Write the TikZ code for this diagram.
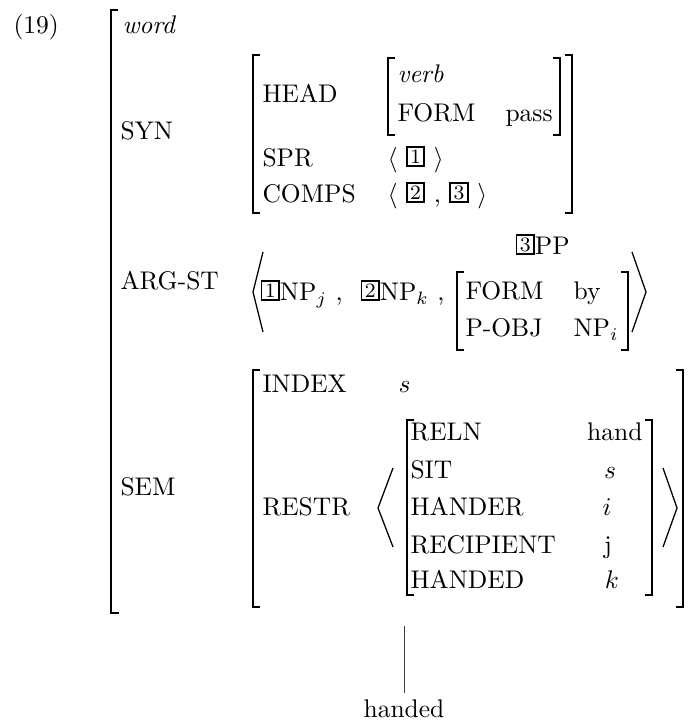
\documentclass[tikz,border=0pt]{standalone}
\newcommand{\bn}[1]{\raisebox{1.4pt}{\fboxsep=0.6pt\fboxrule=0.75pt\fbox{\makebox[4.9pt]{\footnotesize\rule[-0.2pt]{0pt}{5.3pt}#1}}}}
\begin{document}
\begin{tikzpicture}[x=0.392pt,y=-0.392pt,
  lbl/.style={anchor=base west,inner sep=0pt},
  val/.style={anchor=base,inner sep=0pt},
  rval/.style={anchor=base east,inner sep=0pt},
  brk/.style={line width=0.55pt},
  obrk/.style={line width=0.7pt},
  ang/.style={line width=0.5pt},
  edge/.style={line width=0.4pt,draw=black!75}]
\useasboundingbox (0,0) rectangle (688,721);

% example number and outer matrix
\node[lbl] (ex) at (13,34) {(19)};
\draw[obrk] (118,10) -- (111,10) -- (111,613) -- (119,613);
\node[lbl] (word) at (122,34) {\textit{word}};

% SYN
\node[lbl] (syn) at (120,140) {SYN};
\draw[brk] (260,55) -- (253,55) -- (253,213) -- (260,213);
\draw[brk] (565,55) -- (572,55) -- (572,213) -- (565,213);
\node[lbl] (head) at (262,103) {HEAD};
\node[lbl] (spr) at (262,167) {SPR};
\node[lbl] (comps) at (262,203) {COMPS};
\draw[brk] (395,58) -- (388,58) -- (388,135) -- (395,135);
\draw[brk] (553,58) -- (560,58) -- (560,135) -- (553,135);
\node[lbl] (verb) at (397,83) {\textit{verb}};
\node[lbl] (form1) at (397,122) {FORM};
\node[lbl] (pass) at (505,122) {pass};
\node[lbl] (sprv) at (387,167) {$\langle$ \bn{1} $\rangle$};
\node[lbl] (compsv) at (387,203) {$\langle$ \bn{2} , \bn{3} $\rangle$};

% ARG-ST
\node[lbl] (argst) at (120,290) {ARG-ST};
\draw[ang] (263,252) -- (253,292) -- (263,332);
\node[lbl] (np1) at (260,301) {\bn{1}NP$_j$ ,};
\node[lbl] (np2) at (360,301) {\bn{2}NP$_k$ ,};
\node[lbl] (pp) at (515,255) {\bn{3}PP};
\draw[brk] (464,272) -- (457,272) -- (457,350) -- (464,350);
\draw[brk] (621,272) -- (628,272) -- (628,350) -- (621,350);
\node[lbl] (form2) at (465,300) {FORM};
\node[lbl] (by) at (573,300) {by};
\node[lbl] (pobj) at (465,337) {P-OBJ};
\node[lbl] (npi) at (573,337) {NP$_i$};
\draw[ang] (632,252) -- (646,292) -- (632,332);

% SEM
\node[lbl] (sem) at (120,495) {SEM};
\draw[brk] (260,370) -- (253,370) -- (253,607) -- (260,607);
\draw[brk] (676,370) -- (683,370) -- (683,607) -- (676,607);
\node[lbl] (index) at (262,393) {INDEX};
\node[lbl] (sidx) at (398,393) {$s$};
\node[lbl] (restr) at (262,515) {RESTR};
\draw[ang] (393,468) -- (378,508) -- (393,547);
\draw[brk] (414,420) -- (407,420) -- (407,595) -- (414,595);
\draw[brk] (645,420) -- (652,420) -- (652,595) -- (645,595);
\node[lbl] (reln) at (410,440) {RELN};
\node[rval] (hand) at (643,440) {hand};
\node[lbl] (sit) at (410,478) {SIT};
\node[val] (sv) at (610,478) {$s$};
\node[lbl] (hander) at (410,515) {HANDER};
\node[val] (iv) at (607,515) {$i$};
\node[lbl] (recip) at (410,553) {RECIPIENT};
\node[val] (jv) at (608,553) {j};
\node[lbl] (handed2) at (410,588) {HANDED};
\node[val] (kv) at (612,588) {$k$};
\draw[ang] (663,468) -- (677,508) -- (663,547);

% tree
\coordinate (mother) at (404,626);
\node[anchor=base,inner sep=2.4pt] (handed) at (404,717) {handed};
\draw[edge] (mother) -- (handed.north);
\end{tikzpicture}
\end{document}
